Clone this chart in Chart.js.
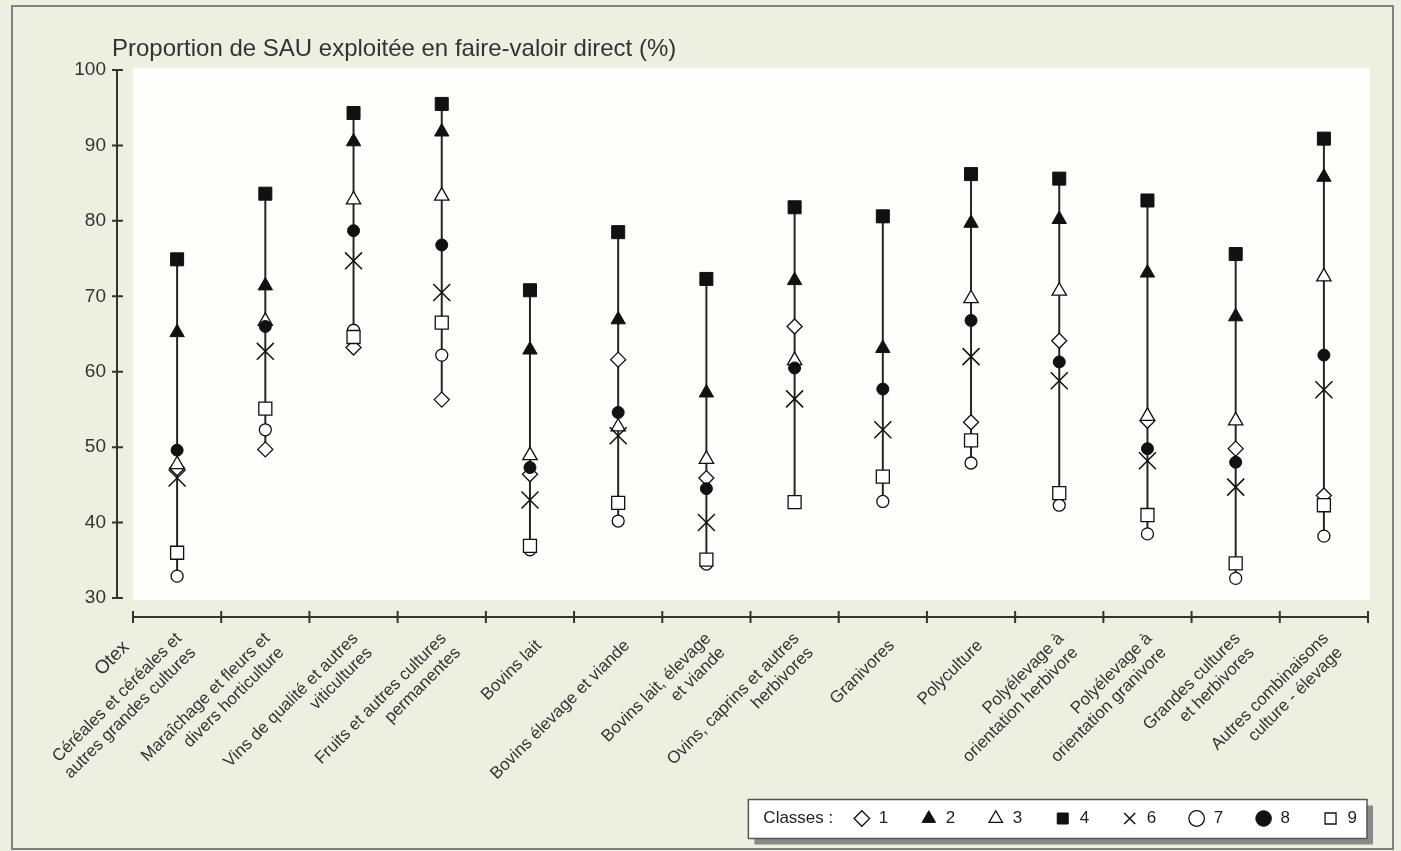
<!DOCTYPE html>
<html lang="fr">
<head>
<meta charset="utf-8">
<title>Proportion de SAU exploitée en faire-valoir direct</title>
<script src="https://cdn.jsdelivr.net/npm/chart.js@4.4.1/dist/chart.umd.min.js"></script>
<style>
  html, body { margin: 0; padding: 0; background: #edf0e1; }
  #wrap { width: 1401px; height: 851px; }
</style>
</head>
<body>
<div id="wrap"><canvas id="otexChart" width="1401" height="851"></canvas></div>
<script>
// Otex categories (x axis)
const otexLabels = [
    ['Céréales et céréales et', 'autres grandes cultures'],
    ['Maraîchage et fleurs et', 'divers horticulture'],
    ['Vins de qualité et autres', 'viticultures'],
    ['Fruits et autres cultures', 'permanentes'],
    'Bovins lait',
    'Bovins élevage et viande',
    ['Bovins lait, élevage', 'et viande'],
    ['Ovins, caprins et autres', 'herbivores'],
    'Granivores',
    'Polyculture',
    ['Polyélevage à', 'orientation herbivore'],
    ['Polyélevage à', 'orientation granivore'],
    ['Grandes cultures', 'et herbivores'],
    ['Autres combinaisons', 'culture - élevage']
];

// one array per class, values in %
const classe1 = [47.2, 49.7, 63.2, 56.3, 46.4, 61.6, 45.9, 66.0, null, 53.3, 64.1, 53.5, 49.8, 43.6];
const classe2 = [65.2, 71.4, 90.5, 91.8, 62.9, 66.9, 57.2, 72.1, 63.1, 79.7, 80.2, 73.1, 67.3, 85.8];
const classe3 = [47.7, 66.7, 82.8, 83.3, 48.9, 52.7, 48.4, 61.5, null, 69.7, 70.7, 54.1, 53.5, 72.6];
const classe4 = [74.9, 83.6, 94.3, 95.5, 70.8, 78.5, 72.3, 81.8, 80.6, 86.2, 85.6, 82.7, 75.6, 90.9];
const classe6 = [45.9, 62.7, 74.7, 70.5, 43.0, 51.5, 40.0, 56.4, 52.3, 62.0, 58.8, 48.2, 44.7, 57.6];
const classe7 = [32.9, 52.3, 65.5, 62.2, 36.4, 40.2, 34.5, null, 42.8, 47.9, 42.3, 38.5, 32.6, 38.2];
const classe8 = [49.6, 66.0, 78.7, 76.8, 47.3, 54.6, 44.5, 60.5, 57.7, 66.8, 61.3, 49.8, 48.0, 62.2];
const classe9 = [36.0, 55.1, 64.6, 66.5, 36.9, 42.6, 35.1, 42.7, 46.1, 50.9, 43.9, 41.0, 34.6, 42.3];

const classNames = ['1', '2', '3', '4', '6', '7', '8', '9'];
const yTickValues = [30, 40, 50, 60, 70, 80, 90, 100];

const FONT = "'Liberation Sans', Arial, Helvetica, sans-serif";
const INK = '#222';

const allClasses = [classe1, classe2, classe3, classe4, classe6, classe7, classe8, classe9];

// vertical line from lowest to highest class in each Otex
const ranges = otexLabels.map((_, i) => {
    const vals = allClasses.map(c => c[i]).filter(v => v !== null);
    return [Math.min(...vals), Math.max(...vals)];
});

function markerSet(label, values, style, radius, filled, order, bw) {
    return {
        type: 'line',
        label: label,
        data: values,
        showLine: false,
        pointStyle: style,
        pointRadius: radius,
        pointHoverRadius: radius,
        pointBackgroundColor: filled ? '#111' : '#fff',
        pointBorderColor: '#111',
        pointBorderWidth: bw || 1.3,
        order: order,
        clip: false
    };
}

const decorPlugin = {
    id: 'decor',
    beforeDraw(chart) {
        const { ctx, chartArea: a, scales: { x, y } } = chart;
        ctx.save();
        ctx.fillStyle = '#edf0e1';
        ctx.fillRect(0, 0, chart.width, chart.height);

        ctx.strokeStyle = '#808080';
        ctx.lineWidth = 2;
        ctx.strokeRect(12, 6, 1381, 843);

        // plot background
        ctx.fillStyle = '#fdfdfb';
        ctx.fillRect(a.left, a.top - 2, a.right - a.left + 2, a.bottom - a.top + 4);

        // y axis, set apart from the plot
        ctx.strokeStyle = '#333';
        ctx.lineWidth = 2;
        const yx = a.left - 16;
        ctx.beginPath();
        ctx.moveTo(yx, y.getPixelForValue(100));
        ctx.lineTo(yx, y.getPixelForValue(30));
        yTickValues.forEach(v => {
            const py = y.getPixelForValue(v);
            ctx.moveTo(yx - 5, py);
            ctx.lineTo(yx + 6, py);
        });
        ctx.stroke();

        // x axis, set apart below the plot
        const xy = a.bottom + 19;
        const n = otexLabels.length;
        ctx.beginPath();
        ctx.moveTo(a.left, xy);
        ctx.lineTo(a.right, xy);
        for (let i = 0; i <= n; i++) {
            let px;
            if (i === 0) px = a.left;
            else if (i === n) px = a.right;
            else px = (x.getPixelForValue(i - 1) + x.getPixelForValue(i)) / 2;
            ctx.moveTo(px, xy - 6);
            ctx.lineTo(px, xy + 6);
        }
        ctx.stroke();

        // Otex labels at 45°, each block centred on its anchor
        ctx.fillStyle = '#333';
        ctx.font = '17px ' + FONT;
        ctx.textAlign = 'right';
        ctx.textBaseline = 'middle';
        const lh = 20;
        otexLabels.forEach((lab, i) => {
            const lines = Array.isArray(lab) ? lab : [lab];
            const off = -(lines.length - 1) * lh / 2;
            ctx.save();
            ctx.translate(x.getPixelForValue(i) + 9, xy + 26);
            ctx.rotate(-Math.PI / 4);
            lines.forEach((t, k) => ctx.fillText(t, 0, off + k * lh));
            ctx.restore();
        });

        // axis titles
        ctx.font = '24px ' + FONT;
        ctx.textAlign = 'left';
        ctx.textBaseline = 'alphabetic';
        ctx.fillText('Proportion de SAU exploitée en faire-valoir direct (%)', a.left - 21, 56);

        ctx.save();
        ctx.translate(a.left - 3, a.bottom + 50);
        ctx.rotate(-Math.PI / 4);
        ctx.font = '19px ' + FONT;
        ctx.textAlign = 'right';
        ctx.fillText('Otex', 0, 0);
        ctx.restore();

        // legend frame with its shadow and the "Classes :" caption
        const lg = chart.legend;
        if (lg && lg.legendHitBoxes && lg.legendHitBoxes.length) {
            const hb = lg.legendHitBoxes;
            const first = hb[0];
            const last = hb[hb.length - 1];
            const cy = first.top + 8.5;
            const left = first.left - 105;
            const right = last.left + last.width + 10;
            const top = cy - 19;
            const bottom = cy + 20;
            ctx.fillStyle = '#8a8a8a';
            ctx.fillRect(left + 6, top + 6, right - left, bottom - top);
            ctx.fillStyle = '#ffffff';
            ctx.fillRect(left, top, right - left, bottom - top);
            ctx.strokeStyle = '#555';
            ctx.lineWidth = 1.5;
            ctx.strokeRect(left, top, right - left, bottom - top);
            ctx.fillStyle = INK;
            ctx.font = '17px ' + FONT;
            ctx.textAlign = 'left';
            ctx.textBaseline = 'middle';
            ctx.fillText('Classes :', left + 15, cy);
        }
        ctx.restore();
    }
};

const ctx = document.getElementById('otexChart').getContext('2d');

const otexChart = new Chart(ctx, {
    type: 'bar',
    data: {
        labels: otexLabels,
        datasets: [
            {
                type: 'bar',
                label: 'étendue',
                data: ranges,
                backgroundColor: '#222',
                borderWidth: 0,
                barThickness: 1.3,
                order: 20
            },
            markerSet(classNames[0], classe1, 'rectRot', 7.5, false, 6),
            markerSet(classNames[1], classe2, 'triangle', 8.3, true, 7, 1),
            markerSet(classNames[2], classe3, 'triangle', 8.3, false, 4),
            markerSet(classNames[3], classe4, 'rect', 9.2, true, 8, 1),
            markerSet(classNames[4], classe6, 'crossRot', 12, false, 2, 1.5),
            markerSet(classNames[5], classe7, 'circle', 6, false, 5),
            markerSet(classNames[6], classe8, 'circle', 6, true, 1, 1),
            markerSet(classNames[7], classe9, 'rect', 9.2, false, 3)
        ]
    },
    options: {
        responsive: false,
        animation: false,
        events: [],
        layout: {
            padding: { top: 70, right: 12, bottom: 14, left: 0 }
        },
        scales: {
            x: {
                offset: true,
                grid: { display: false },
                border: { display: false },
                ticks: { display: false },
                afterFit: scale => { scale.height = 180; }
            },
            y: {
                min: 30,
                max: 100,
                grid: { display: false },
                border: { display: false },
                afterBuildTicks: scale => {
                    scale.ticks = yTickValues.map(v => ({ value: v }));
                },
                ticks: {
                    padding: 19,
                    color: '#333',
                    font: { family: FONT, size: 19 }
                },
                afterFit: scale => { scale.width = 133; }
            },
            padRight: {
                type: 'linear',
                position: 'right',
                display: true,
                grid: { display: false },
                border: { display: false },
                ticks: { display: false },
                afterFit: scale => { scale.width = 21; }
            }
        },
        plugins: {
            title: { display: false },
            tooltip: { enabled: false },
            legend: {
                position: 'bottom',
                align: 'end',
                labels: {
                    usePointStyle: true,
                    boxWidth: 19,
                    boxHeight: 11,
                    padding: 32,
                    color: INK,
                    font: { family: FONT, size: 17 },
                    filter: item => item.datasetIndex > 0,
                    sort: (a, b) => a.datasetIndex - b.datasetIndex
                }
            }
        }
    },
    plugins: [decorPlugin]
});
</script>
</body>
</html>
